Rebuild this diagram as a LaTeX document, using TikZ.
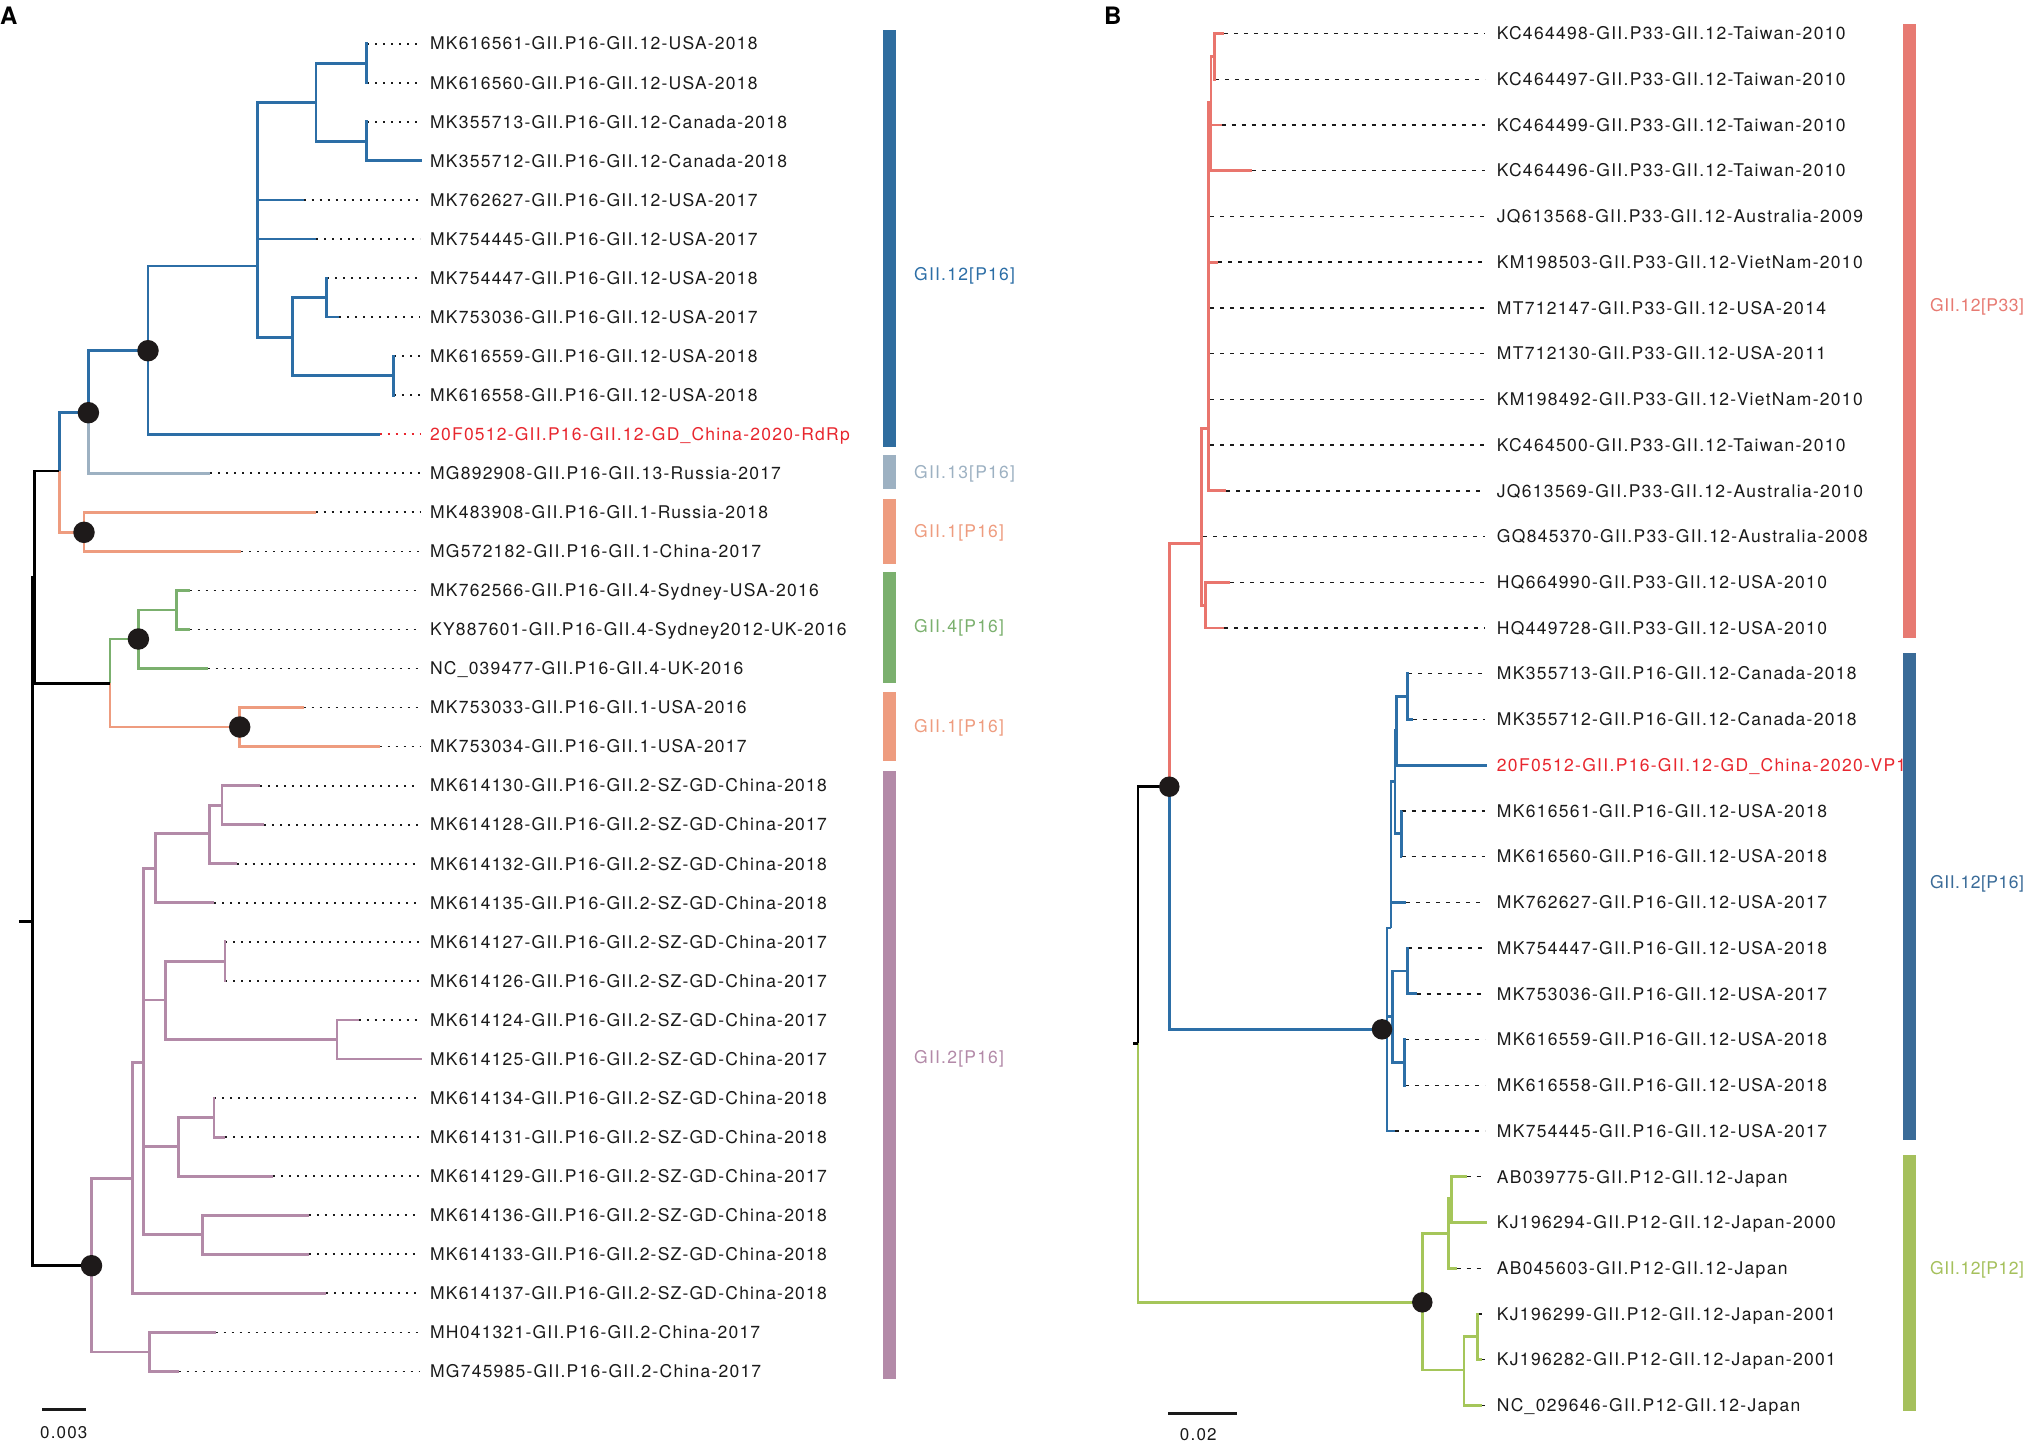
\documentclass[tikz,border=0pt]{standalone}
\usepackage{fontspec}
\setmainfont{TeX Gyre Heros}
\newfontfamily\fA{TeX Gyre Heros}[LetterSpace=7]
\newfontfamily\fB{TeX Gyre Heros}[LetterSpace=7.5]
\newfontfamily\fC{TeX Gyre Heros}[LetterSpace=3]
\definecolor{cblue}{HTML}{2C6EA6}
\definecolor{cgrey}{HTML}{9DB1C2}
\definecolor{csalm}{HTML}{EE9C7F}
\definecolor{cgreen}{HTML}{7BB06E}
\definecolor{cpurp}{HTML}{B38AA8}
\definecolor{cred}{HTML}{E8262E}
\definecolor{bred}{HTML}{E9756D}
\definecolor{bblue}{HTML}{2D6FA7}
\definecolor{bgreen}{HTML}{A5C65A}
\definecolor{dotc}{HTML}{1E1A1A}
\definecolor{barPsixteen}{HTML}{2F6D9F}
\definecolor{barBthree}{HTML}{E77A72}
\definecolor{barBsix}{HTML}{3A6B98}
\definecolor{barBtwo}{HTML}{A5C05C}
\definecolor{txt}{HTML}{1A1A1A}
\begin{document}
\begin{tikzpicture}[x=1pt,y=-1pt,
  br/.style={line width=2.8pt},
  leadA/.style={line width=1.7pt,dash pattern=on 2pt off 6pt,shorten >=10pt},
  leadB/.style={line width=1.4pt,dash pattern=on 4pt off 6pt,shorten >=11.7pt},
  labA/.style={anchor=west,inner sep=0pt,text height=12.5pt,text depth=0pt,text=txt,font={\fA\fontsize{17.5}{20}\selectfont}},
  labB/.style={anchor=west,inner sep=0pt,text height=12.5pt,text depth=0pt,text=txt,font={\fB\fontsize{17.5}{20}\selectfont}},
  grpB/.style={anchor=west,inner sep=0pt,text height=12.5pt,text depth=0pt,font={\fC\fontsize{17.5}{20}\selectfont}},
  dotst/.style={circle,fill=dotc,inner sep=0pt,minimum size=21.5pt},
  panel/.style={anchor=base west,inner sep=0pt,font={\bfseries\fontsize{24}{24}\selectfont}},
  scl/.style={inner sep=0pt,text=txt,font={\fA\fontsize{17}{20}\selectfont}}
]
\useasboundingbox (0,0) rectangle (2027,1441);

% ================= PANEL A =================
\node[panel] (pA) at (0,24) {A};

% leaf tips
\foreach \i/\x in {0/367,1/367,2/367,3/422,4/303.6,5/316,6/327,7/339,8/394,9/394,
  10/379.5,11/210,12/315.6,13/241,14/189.7,15/189.7,16/207.6,17/303.6,18/379.5,
  19/260.3,20/264.3,21/236.6,22/214.3,23/225.4,24/225.4,25/358.5,26/421.9,
  27/214.3,28/225.4,29/273.2,30/308.9,31/308.9,32/326,33/215.6,34/178.6}
  \coordinate (ta\i) at (\x,{43.7+39.05*\i});

% labels
\foreach \i/\t in {0/{MK616561-GII.P16-GII.12-USA-2018},1/{MK616560-GII.P16-GII.12-USA-2018},
  2/{MK355713-GII.P16-GII.12-Canada-2018},3/{MK355712-GII.P16-GII.12-Canada-2018},
  4/{MK762627-GII.P16-GII.12-USA-2017},5/{MK754445-GII.P16-GII.12-USA-2017},
  6/{MK754447-GII.P16-GII.12-USA-2018},7/{MK753036-GII.P16-GII.12-USA-2017},
  8/{MK616559-GII.P16-GII.12-USA-2018},9/{MK616558-GII.P16-GII.12-USA-2018},
  11/{MG892908-GII.P16-GII.13-Russia-2017},12/{MK483908-GII.P16-GII.1-Russia-2018},
  13/{MG572182-GII.P16-GII.1-China-2017},14/{MK762566-GII.P16-GII.4-Sydney-USA-2016},
  15/{KY887601-GII.P16-GII.4-Sydney2012-UK-2016},16/{NC\_039477-GII.P16-GII.4-UK-2016},
  17/{MK753033-GII.P16-GII.1-USA-2016},18/{MK753034-GII.P16-GII.1-USA-2017},
  19/{MK614130-GII.P16-GII.2-SZ-GD-China-2018},20/{MK614128-GII.P16-GII.2-SZ-GD-China-2017},
  21/{MK614132-GII.P16-GII.2-SZ-GD-China-2018},22/{MK614135-GII.P16-GII.2-SZ-GD-China-2018},
  23/{MK614127-GII.P16-GII.2-SZ-GD-China-2017},24/{MK614126-GII.P16-GII.2-SZ-GD-China-2017},
  25/{MK614124-GII.P16-GII.2-SZ-GD-China-2017},26/{MK614125-GII.P16-GII.2-SZ-GD-China-2017},
  27/{MK614134-GII.P16-GII.2-SZ-GD-China-2018},28/{MK614131-GII.P16-GII.2-SZ-GD-China-2018},
  29/{MK614129-GII.P16-GII.2-SZ-GD-China-2017},30/{MK614136-GII.P16-GII.2-SZ-GD-China-2018},
  31/{MK614133-GII.P16-GII.2-SZ-GD-China-2018},32/{MK614137-GII.P16-GII.2-SZ-GD-China-2018},
  33/{MH041321-GII.P16-GII.2-China-2017},34/{MG745985-GII.P16-GII.2-China-2017}}
  \node[labA] (la\i) at (430,{43.7+39.05*\i}) {\t};
\node[labA,text=cred] (la10) at (430,{43.7+39.05*10}) {20F0512-GII.P16-GII.12-GD\_China-2020-RdRp};

% leaders
\foreach \i in {0,1,2,4,5,6,7,8,9,11,12,13,14,15,16,17,18,19,20,21,22,23,24,25,27,28,29,30,31,32,33,34}
  \draw[leadA,txt] (ta\i) -- (la\i.west);
\draw[leadA,cred] (ta10) -- (la10.west);

% internal nodes
\coordinate (n1) at (366.5,63.2);
\coordinate (n2) at (366.5,141.3);
\coordinate (n3) at (316,102.7);
\coordinate (n4) at (326.5,297.5);
\coordinate (n5) at (393.5,375.6);
\coordinate (n6) at (292.4,337.3);
\coordinate (n7) at (257.6,266);
\coordinate (n8) at (148,350.7);
\coordinate (n9) at (88.4,412.7);
\coordinate (n10) at (84,532.3);
\coordinate (n11) at (59.4,471);
\coordinate (n12) at (176.3,610);
\coordinate (n13) at (138.4,639);
\coordinate (n14) at (239.7,727);
\coordinate (n15) at (110,683.3);
\coordinate (n16) at (34.8,577);
\coordinate (p1) at (221.9,805.2);
\coordinate (p2) at (209.8,833.3);
\coordinate (p3) at (155.4,868.3);
\coordinate (p4) at (225,961.4);
\coordinate (p5) at (337,1039.5);
\coordinate (p6) at (165.2,1000);
\coordinate (p7) at (213.9,1117.6);
\coordinate (p8) at (178.6,1146.7);
\coordinate (p9) at (202.2,1234.7);
\coordinate (p10) at (143.75,1062.3);
\coordinate (p11) at (132.6,1178.3);
\coordinate (p12) at (149.6,1351.9);
\coordinate (p13) at (91.5,1265.7);
\coordinate (rA) at (32.5,921.7);
\coordinate (rAt) at (18.75,921.7);

% branches
\foreach \a/\b in {n1/ta0,n1/ta1,n2/ta2,n2/ta3,n3/n1,n3/n2,n7/n3,n7/ta4,n7/ta5,
  n4/ta6,n4/ta7,n5/ta8,n5/ta9,n6/n4,n6/n5,n7/n6,n8/n7,n8/ta10,n9/n8,n11/n9}
  \draw[br,cblue] (\a) |- (\b);
\draw[br,cgrey] (n9) |- (ta11);
\foreach \a/\b in {n11/n10,n10/ta12,n10/ta13,n15/n14,n14/ta17,n14/ta18}
  \draw[br,csalm] (\a) |- (\b);
\foreach \a/\b in {n15/n13,n13/n12,n12/ta14,n12/ta15,n13/ta16}
  \draw[br,cgreen] (\a) |- (\b);
\foreach \a/\b in {p1/ta19,p1/ta20,p2/p1,p2/ta21,p3/p2,p3/ta22,p4/ta23,p4/ta24,
  p5/ta25,p5/ta26,p6/p4,p6/p5,p7/ta27,p7/ta28,p8/p7,p8/ta29,p9/ta30,p9/ta31,
  p10/p3,p10/p6,p10/p8,p10/p9,p11/p10,p11/ta32,p12/ta33,p12/ta34,p13/p11,p13/p12}
  \draw[br,cpurp] (\a) |- (\b);
\foreach \a/\b in {n16/n11,n16/n15,rA/n16,rA/p13}
  \draw[br,black] (\a) |- (\b);
\draw[br,black] (rAt) -- (rA);

% dots
\foreach \n in {n8,n9,n10,n13,n14,p13}
  \node[dotst] (d\n) at (\n) {};

% bars A
\fill[barPsixteen] (883,30) rectangle (896,447);
\fill[cgrey] (883,455) rectangle (896,489);
\fill[csalm] (883,499) rectangle (896,564);
\fill[cgreen] (883,572) rectangle (896,683);
\fill[csalm] (883,692) rectangle (896,761);
\fill[cpurp] (883,771) rectangle (896,1379);
\node[labA,text=cblue] (gA1) at (914,274) {GII.12[P16]};
\node[labA,text=cgrey] (gA2) at (914,472) {GII.13[P16]};
\node[labA,text=csalm] (gA3) at (914,531) {GII.1[P16]};
\node[labA,text=cgreen] (gA4) at (914,626) {GII.4[P16]};
\node[labA,text=csalm] (gA5) at (914,726.5) {GII.1[P16]};
\node[labA,text=cpurp] (gA6) at (914,1057) {GII.2[P16]};

% scale A
\coordinate (sA1) at (42.4,1409.3);
\coordinate (sA2) at (86.2,1409.3);
\draw[line width=3pt,txt] (sA1) -- (sA2);
\node[scl] (sAt) at (63.8,1433) {0.003};

% ================= PANEL B =================
\node[panel] (pB) at (1104,24.5) {B};

\foreach \i/\x in {0/1224,1/1215,2/1221.7,3/1251.7,4/1210,5/1218,6/1210,7/1210,8/1210,
  9/1210,10/1226,11/1203.3,12/1230,13/1224,14/1408.3,15/1413.3,16/1486.7,17/1401.7,
  18/1401.7,19/1406,20/1408.3,21/1416.7,22/1405,23/1405,24/1395,25/1466.7,26/1487.3,
  27/1456.7,28/1478.3,29/1481.7,30/1481.7}
  \coordinate (tb\i) at (\x,{33.5+45.73*\i});

\foreach \i/\t in {0/{KC464498-GII.P33-GII.12-Taiwan-2010},1/{KC464497-GII.P33-GII.12-Taiwan-2010},
  2/{KC464499-GII.P33-GII.12-Taiwan-2010},3/{KC464496-GII.P33-GII.12-Taiwan-2010},
  4/{JQ613568-GII.P33-GII.12-Australia-2009},5/{KM198503-GII.P33-GII.12-VietNam-2010},
  6/{MT712147-GII.P33-GII.12-USA-2014},7/{MT712130-GII.P33-GII.12-USA-2011},
  8/{KM198492-GII.P33-GII.12-VietNam-2010},9/{KC464500-GII.P33-GII.12-Taiwan-2010},
  10/{JQ613569-GII.P33-GII.12-Australia-2010},11/{GQ845370-GII.P33-GII.12-Australia-2008},
  12/{HQ664990-GII.P33-GII.12-USA-2010},13/{HQ449728-GII.P33-GII.12-USA-2010},
  14/{MK355713-GII.P16-GII.12-Canada-2018},15/{MK355712-GII.P16-GII.12-Canada-2018},
  17/{MK616561-GII.P16-GII.12-USA-2018},18/{MK616560-GII.P16-GII.12-USA-2018},
  19/{MK762627-GII.P16-GII.12-USA-2017},20/{MK754447-GII.P16-GII.12-USA-2018},
  21/{MK753036-GII.P16-GII.12-USA-2017},22/{MK616559-GII.P16-GII.12-USA-2018},
  23/{MK616558-GII.P16-GII.12-USA-2018},24/{MK754445-GII.P16-GII.12-USA-2017},
  25/{AB039775-GII.P12-GII.12-Japan},26/{KJ196294-GII.P12-GII.12-Japan-2000},
  27/{AB045603-GII.P12-GII.12-Japan},28/{KJ196299-GII.P12-GII.12-Japan-2001},
  29/{KJ196282-GII.P12-GII.12-Japan-2001},30/{NC\_029646-GII.P12-GII.12-Japan}}
  \node[labB] (lb\i) at (1496.7,{33.5+45.73*\i}) {\t};
\node[labB,text=cred] (lb16) at (1496.7,{33.5+45.73*16}) {20F0512-GII.P16-GII.12-GD\_China-2020-VP1};

\foreach \i in {0,1,2,3,4,5,6,7,8,9,10,11,12,13,14,15,17,18,19,20,21,22,23,24,25,27,28,29,30}
  \draw[leadB,txt] (tb\i) -- (lb\i.west);

% internal nodes B
\coordinate (b1) at (1214.5,56.4);
\coordinate (b2) at (1211,102.7);
\coordinate (b3) at (1208.3,428.6);
\coordinate (be) at (1205.3,605.8);
\coordinate (bd) at (1201.7,543.8);
\coordinate (bR2) at (1169.3,786.7);
\coordinate (q0) at (1387,1029.3);
\coordinate (q1) at (1391,928);
\coordinate (q2) at (1395,781.7);
\coordinate (q3) at (1396.5,730);
\coordinate (q4) at (1401.2,833.8);
\coordinate (q5) at (1407.8,696.6);
\coordinate (q6) at (1392.7,1016.5);
\coordinate (q7) at (1407.8,971);
\coordinate (q8) at (1404.5,1062.4);
\coordinate (g0) at (1422.3,1302.3);
\coordinate (g1) at (1448.3,1233.3);
\coordinate (g2) at (1451.7,1198.6);
\coordinate (g3) at (1464,1370);
\coordinate (g4) at (1477.8,1336.8);
\coordinate (rB) at (1138,1043.3);
\coordinate (rBt) at (1133,1043.3);

\foreach \a/\b in {b1/tb0,b1/tb1,b2/b1,b2/tb2,b2/tb3,b3/b2,b3/tb4,b3/tb5,b3/tb6,b3/tb7,
  b3/tb8,b3/tb9,b3/tb10,bd/b3,bd/tb11,be/tb12,be/tb13,bd/be,bR2/bd}
  \draw[br,bred] (\a) |- (\b);
\foreach \a/\b in {bR2/q0,q0/q1,q0/q6,q0/tb24,q1/q2,q1/tb19,q2/q3,q2/q4,q3/q5,q3/tb16,
  q5/tb14,q5/tb15,q4/tb17,q4/tb18,q6/q7,q6/q8,q7/tb20,q7/tb21,q8/tb22,q8/tb23}
  \draw[br,bblue] (\a) |- (\b);
\foreach \a/\b in {rB/g0,g0/g1,g0/g3,g1/g2,g1/tb27,g2/tb25,g2/tb26,g3/g4,g3/tb30,g4/tb28,g4/tb29}
  \draw[br,bgreen] (\a) |- (\b);
\draw[br,black] (rB) |- (bR2);
\draw[br,black] (rBt) -- (rB);

\node[dotst,minimum size=20.5pt] (dbR2) at (bR2) {};
\node[dotst,minimum size=20.5pt] (dq0) at (1382,1029.3) {};
\node[dotst,minimum size=20.5pt] (dg0) at (g0) {};

% bars B
\fill[barBthree] (1903,24) rectangle (1916,638);
\fill[barBsix] (1903,653) rectangle (1916,1140);
\fill[barBtwo] (1903,1155) rectangle (1916,1411);
\node[grpB,text=barBthree] (gB1) at (1930,305) {GII.12[P33]};
\node[grpB,text=barBsix] (gB2) at (1930,882) {GII.12[P16]};
\node[grpB,text=barBtwo] (gB3) at (1930,1268) {GII.12[P12]};

% scale B
\coordinate (sB1) at (1168.3,1413.3);
\coordinate (sB2) at (1236.7,1413.3);
\draw[line width=3pt,txt] (sB1) -- (sB2);
\node[scl] (sBt) at (1198.3,1434.3) {0.02};
\end{tikzpicture}
\end{document}
